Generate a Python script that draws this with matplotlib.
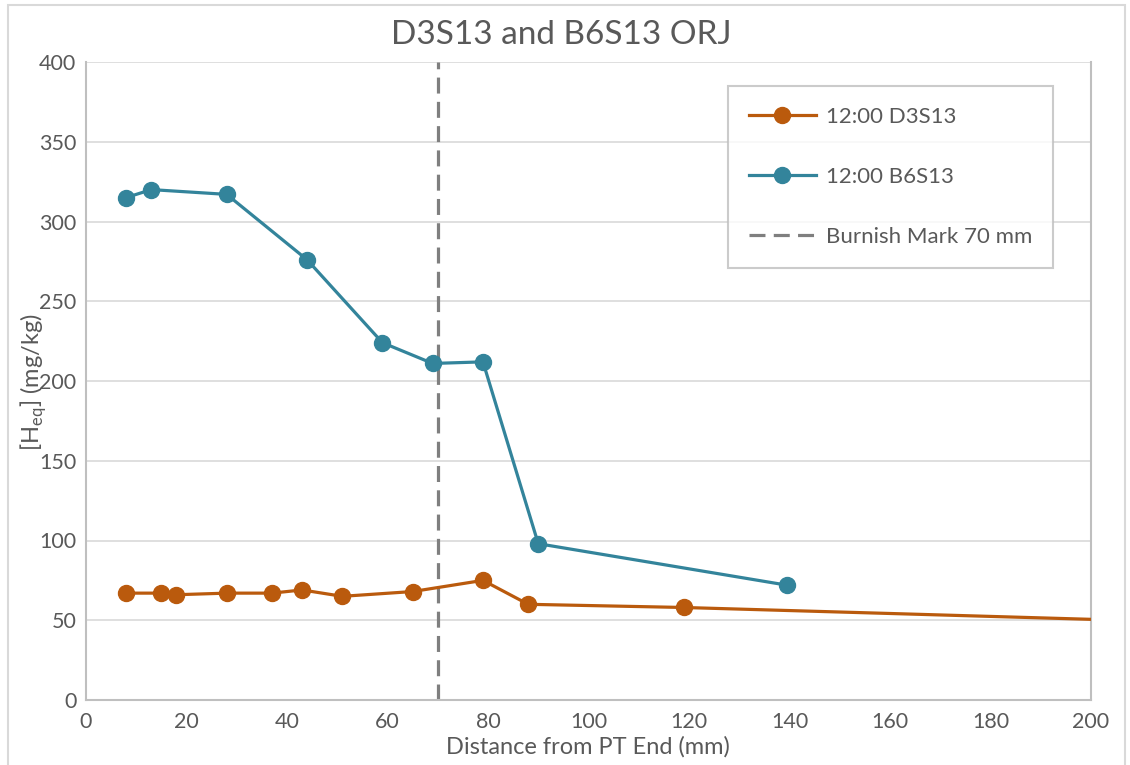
import matplotlib
matplotlib.use("Agg")
import matplotlib.pyplot as plt
from matplotlib.patches import Rectangle

plt.rcParams["font.family"] = ["Lato", "DejaVu Sans"]

# data
d3_x = [8, 15, 18, 28, 37, 43, 51, 65, 79, 88, 119, 203]
d3_y = [67, 67, 66, 67, 67, 69, 65, 68, 75, 60, 58, 50.3]
b6_x = [8, 13, 28, 44, 59, 69, 79, 90, 139.5]
b6_y = [315, 320, 317, 276, 224, 211, 212, 98, 72]
burnish_x = 70
x_ticks = list(range(0, 201, 20))
y_ticks = list(range(0, 401, 50))

ORANGE = "#BA5A0D"
TEAL = "#33849B"
GRAY = "#7F7F7F"
TEXT = "#595959"

fig = plt.figure(figsize=(11.3, 7.65), dpi=100)
ax = fig.add_axes([86 / 1130, 1 - 700 / 765, (1091 - 86) / 1130, (700 - 62) / 765])

ax.plot(d3_x, d3_y, color=ORANGE, lw=2.3, marker="o", ms=11.5, label="12:00 D3S13", zorder=3)
ax.plot(b6_x, b6_y, color=TEAL, lw=2.3, marker="o", ms=11.5, label="12:00 B6S13", zorder=3)
ax.plot([burnish_x, burnish_x], [0, 400], color=GRAY, lw=2.3, dashes=(5, 2.6),
        label="Burnish Mark 70 mm", zorder=2)

ax.set_xlim(0, 200)
ax.set_ylim(0, 400)
ax.set_xticks(x_ticks)
ax.set_yticks(y_ticks)
ax.tick_params(length=0, labelsize=15.5, labelcolor=TEXT)
ax.tick_params(axis="x", pad=9)
ax.tick_params(axis="y", pad=7)
ax.grid(axis="y", color="#D9D9D9", lw=1.2)
ax.set_axisbelow(True)
for side in ["left", "bottom", "right"]:
    ax.spines[side].set_color("#BFBFBF")
    ax.spines[side].set_linewidth(1.5)
ax.spines["top"].set_visible(False)

fig.text(561 / 1130, 1 - 35 / 765, "D3S13 and B6S13 ORJ", ha="center", va="center",
         fontsize=24, color=TEXT)
fig.text(588 / 1130, 1 - 747 / 765, "Distance from PT End (mm)", ha="center", va="center",
         fontsize=17, color=TEXT)
fig.text(34 / 1130, 1 - 382 / 765, r"[H$_{\mathregular{eq}}$] (mg/kg)", ha="center", va="center",
         rotation=90, fontsize=17, color=TEXT)

leg = fig.legend(loc="upper left", bbox_to_anchor=(728 / 1130, 1 - 86 / 765), fontsize=16,
                 labelcolor=TEXT, frameon=True, fancybox=False, edgecolor="#BFBFBF",
                 handlelength=3.0, labelspacing=1.8, borderpad=0.95, handletextpad=0.45,
                 borderaxespad=0)
leg.get_frame().set_linewidth(1.5)
leg.set_bbox_to_anchor((728 / 1130, 1 - 86 / 765), transform=fig.transFigure)

fig.patches.append(Rectangle((8 / 1130, -0.01), (1125 - 8) / 1130, 1 - 5 / 765 + 0.01,
                             transform=fig.transFigure, fill=False, edgecolor="#D9D9D9", lw=1.5))

fig.savefig("out.png", dpi=100)
